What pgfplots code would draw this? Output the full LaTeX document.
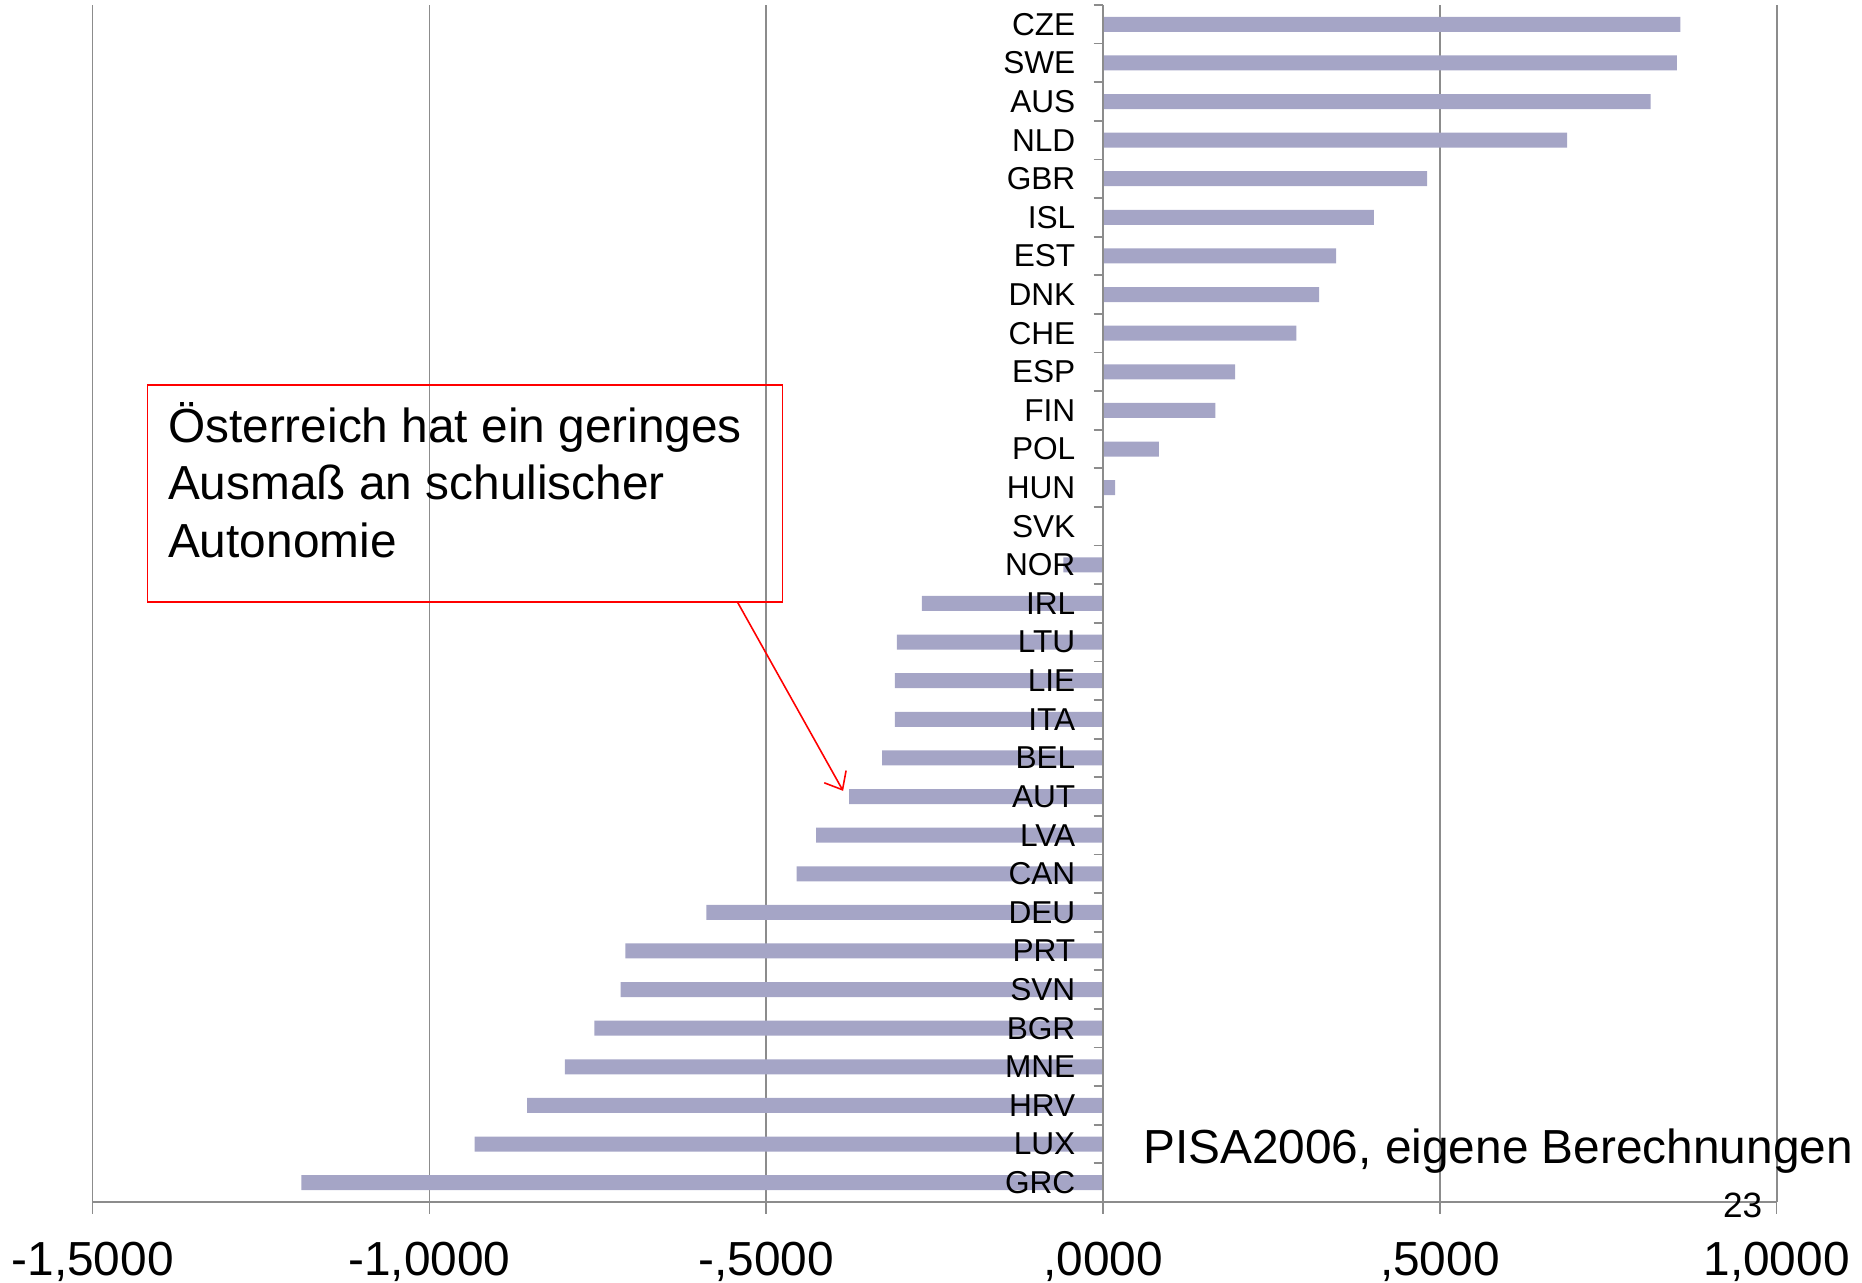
\documentclass[border=0pt]{standalone}
\usepackage{fontspec}
\setmainfont{Liberation Sans}
\usepackage{pgfplots}
\pgfplotsset{compat=1.18}
\usetikzlibrary{arrows.meta}
\definecolor{barcol}{HTML}{A5A5C6}
\definecolor{gridcol}{HTML}{8C8C8C}
\begin{document}
\begin{tikzpicture}
% vertical gridlines (behind the bars)
\foreach \gx in {0,3.368,6.736,13.472,16.84} {
  \draw[gridcol, line width=0.5pt] (\gx,0) -- (\gx,11.97);
}
\begin{axis}[
  axis on top,
  scale only axis, width=16.84cm, height=11.97cm,
  xmin=-1.5, xmax=1, ymin=-0.5, ymax=30.5,
  axis line style={draw=none},
  clip=false,
  xtick={-1.5,-1,-0.5,0,0.5,1},
  xticklabels={{-1,5000},{-1,0000},{-,5000},{,0000},{,5000},{1,0000}},
  xtick pos=lower, xtick align=outside, major tick length=0.12cm,
  xtick style={draw=gridcol, line width=0.5pt},
  xticklabel style={font=\fontsize{13.6}{15}\selectfont, anchor=north, inner sep=0pt, yshift=-0.27cm},
  ytick={0,...,30},
  yticklabels={GRC,LUX,HRV,MNE,BGR,SVN,PRT,DEU,CAN,LVA,AUT,BEL,ITA,LIE,LTU,IRL,NOR,SVK,HUN,POL,FIN,ESP,CHE,DNK,EST,ISL,GBR,NLD,AUS,SWE,CZE},
  ytick pos=left, ytick align=inside, ytick style={draw=none},
  yticklabel style={font=\fontsize{9}{10}\selectfont, anchor=east, inner sep=0pt, xshift=9.954cm},
  xbar, bar width=0.15cm,
]
\addplot[fill=barcol, draw=none] coordinates {
(-1.190,0) (-0.933,1) (-0.855,2) (-0.799,3) (-0.755,4) (-0.716,5) (-0.709,6)
(-0.589,7) (-0.455,8) (-0.426,9) (-0.377,10) (-0.328,11) (-0.309,12) (-0.309,13)
(-0.306,14) (-0.269,15) (-0.059,16) (0.001,17) (0.018,18) (0.083,19) (0.167,20)
(0.196,21) (0.287,22) (0.321,23) (0.346,24) (0.402,25) (0.481,26) (0.689,27)
(0.813,28) (0.852,29) (0.857,30)};
\end{axis}
% axis lines
\draw[gridcol, line width=0.5pt] (0,0) -- (16.84,0);
\draw[gridcol, line width=0.5pt] (10.104,0) -- (10.104,11.97);
\foreach \k in {0,...,31} {
  \draw[gridcol, line width=0.5pt] ({10.104-0.093},{\k*11.97/31}) -- (10.104,{\k*11.97/31});
}
% annotation
\draw[red, line width=0.45pt] (0.547,6.00) rectangle (6.90,8.17);
\node[anchor=base west, inner sep=0pt, font=\fontsize{13.6}{16}\selectfont] at (0.748,7.59) {Österreich hat ein geringes};
\node[anchor=base west, inner sep=0pt, font=\fontsize{13.6}{16}\selectfont] at (0.748,7.02) {Ausmaß an schulischer};
\node[anchor=base west, inner sep=0pt, font=\fontsize{13.6}{16}\selectfont] at (0.748,6.44) {Autonomie};
\draw[red, line width=0.45pt, -{Straight Barb[length=0.15cm, width=0.25cm]}] (6.448,6.00) -- (7.505,4.111);
\node[anchor=base west, inner sep=0pt, font=\fontsize{13.6}{16}\selectfont] at (10.50,0.38) {PISA2006, eigene Berechnungen};
\node[anchor=base, inner sep=0pt, font=\fontsize{10}{12}\selectfont] at (16.50,-0.16) {23};
\path[use as bounding box] (-0.926,-0.81) rectangle (17.694,12.02);
\end{tikzpicture}
\end{document}
